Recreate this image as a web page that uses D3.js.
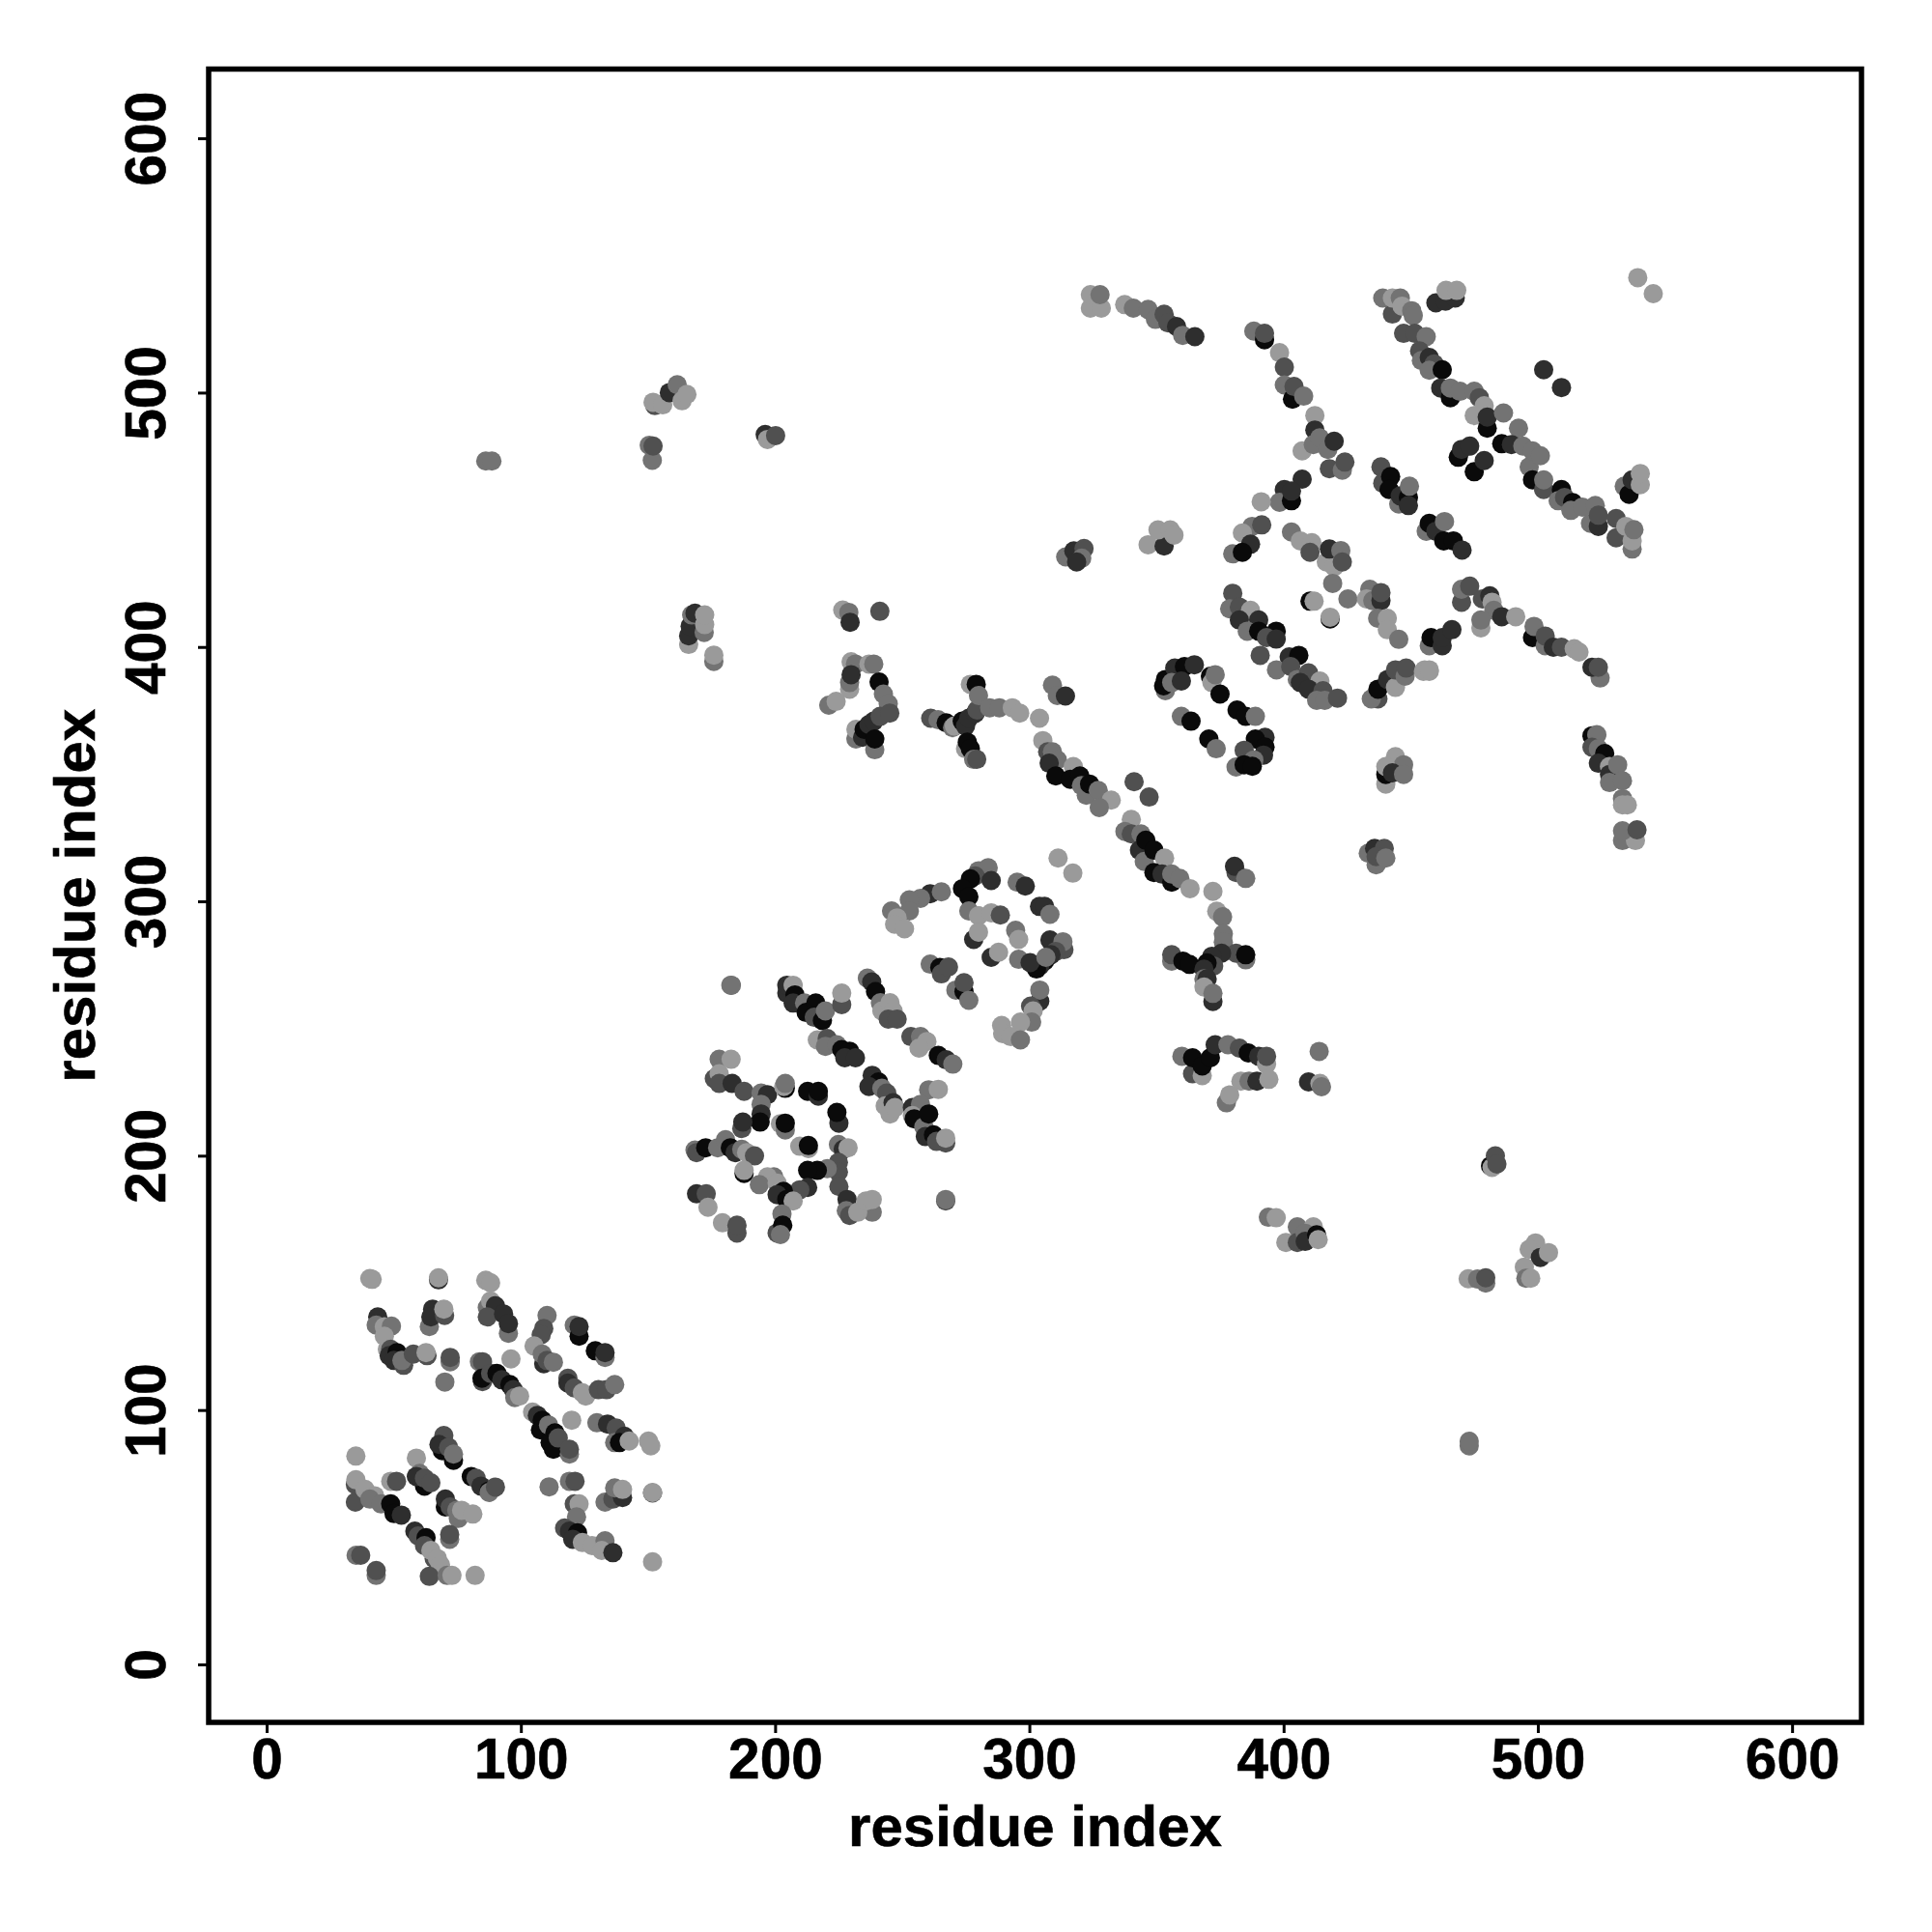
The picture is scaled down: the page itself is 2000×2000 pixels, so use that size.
<!DOCTYPE html>
<html><head><meta charset="utf-8">
<script src="https://cdn.jsdelivr.net/npm/d3@7"></script>
<style>html,body{margin:0;padding:0;background:#fff}svg{display:block}</style></head>
<body><div id="chart"></div>
<script>
// Each entry: [residue i, residue j, shade class 0 (darkest) .. 4 (lightest)]
const domainA = [
[40.6,151.7,4],[41.5,151.4,4],[67.6,151.2,1],[67.6,152,4],[86.2,151,4],[88.1,150,4],
[43.7,136.6,1],[43.1,133.4,3],[46.3,132.7,4],[49.1,133,3],[46.3,129,4],[47.5,123.9,4],[48.8,123.9,2],[48.2,121.4,1],[51.3,122.6,0],[50.1,119.5,1],[53.9,117.6,2],[53.2,119.5,3],[57.7,122,2],[63.1,121.4,2],[62.7,122.6,4],[72.2,119,3],[72.2,120.7,2],[70.1,111,3],
[64,132.8,3],[65.3,139.7,1],[64.6,136.6,1],[70,137.2,2],[69.7,139.7,4],
[86.8,140.3,3],[88.1,142.9,4],[90,141,1],[86.8,136.6,2],[93.2,137.8,1],[95.1,130.2,3],[95.1,134,1],
[110.3,137.2,3],[109,132.1,2],[108,129.6,2],[105.2,125.2,4],[109,118.2,1],[108.4,122,3],[110.3,119.5,2],[112.8,118.8,3],
[121,133.4,3],[122.9,129,0],[122.9,132.8,1],[129.3,123.3,0],[133.1,120.7,3],[133.1,122.6,1],
[118.5,112.5,2],[118.5,110.6,1],[121,108.7,2],[124.2,106.8,4],[125.5,105.5,4],[130.5,108,2],[133.7,108,2],[136.9,110,3],
[83.7,119,3],[84.9,119,2],[96.1,120.1,4],[84.9,111.2,2],[84.7,112.5,0],[88.1,114.4,2],[90.6,114.4,0],[92.5,111.9,1],[95.7,110,0],[97,108,1],[97.6,104.9,3],[99.5,105.5,4],
[104.6,99.2,4],[106.5,97.9,1],[108.4,96,0],[107.7,92.2,0],[110.9,94.1,3],[113.4,91,0],[111.5,87.2,0],[112.8,84.6,0],[114.7,89,2],[119.1,82.7,3],[119.1,84.6,2],[120,96,4],
[129.9,95,3],[134.1,94.5,1],[137.5,92.9,2],[136.9,87.2,3],[140.7,89.7,1],[138.8,87.2,0],[142.6,87.8,4],[150.2,87.8,4],[151.1,85.9,4],
[69.1,84,0],[69.7,90,2],[67.8,86.5,1],[71.6,85.3,2],[73.5,80.2,0],[73.5,82.7,3],
[58.9,81.1,4],[62.1,70.1,0],[60.2,75.1,3],[58.9,73.9,1],[62.1,73.2,2],[64.6,71.4,2],
[80.5,73.9,0],[82.4,73.2,2],[84.3,70.1,1],[87.5,68.2,0],[87.5,67.6,3],[90,69.7,2],
[35.1,81.9,4],[34.9,70.7,2],[35.1,72.6,4],[34.9,63.8,2],[38.7,68.8,4],[42.5,66.3,4],[40.6,65,3],[45,63.1,3],[48.8,63.1,0],[50.1,59.3,0],[53,58.7,1],
[48.8,72,4],[51.1,72,2],
[70.3,61.9,0],[70.3,65,1],[72.2,61.9,2],[74.8,60.6,3],[75.4,57.4,3],[76.7,60.6,4],[81.1,59.1,4],
[58.3,52.4,1],[59.6,50.5,2],[62.7,49.8,0],[62.1,46.7,2],[65.9,41.6,2],[64.6,44.8,4],[67.2,41.6,4],[68.4,39.1,4],
[72,49.2,3],[72,51.1,2],[35.2,42.9,3],[37,42.9,2],[43.1,35,3],[43.1,36.9,2],[64,34.6,2],[71,35,3],[72.9,35,4],[82,35,4],
[111.1,69.8,3],[119.1,72,3],[121.3,72,2],[133.1,63.8,3],[136.2,65,2],[140,65.6,1],[136.9,69.4,3],[140,68.8,4],[151.8,67.4,2],[151.8,67.6,4],
[121,63.1,2],[122.9,63.1,4],[121.9,58,3],[117.2,53.6,2],[119.1,52.4,1],[122.3,51.7,0],[120.4,49.2,1],[124.2,47.9,4],[128,46.7,4],[133.1,48.6,3],[131.8,44.8,4],[136.2,43.9,1],[151.8,40.3,4]
];
const domainB = [
[311.3,317,4],[317.1,311.1,4],[182.6,267,3],[182.8,267,3],[267.1,182.2,2],[267.1,182.8,3],
[204.6,263.9,1],[204.6,267,1],[207.1,267,4],[207.8,263.2,0],[207.1,260,1],[211.6,260,3],[212.2,256.3,0],[216.6,255.6,0],[216,260,0],[215.4,254.4,2],[218.6,253.1,0],[219.8,256.9,3],[226.2,259.4,2],[226.2,263.9,4],
[236.3,269.8,3],[238,268.3,1],[239.5,264.5,0],[241.4,260.1,3],[242,256.9,4],[245.2,260.1,4],[246.4,256.9,4],[244.5,253.7,2],[248,253.7,2],[253.4,246.8,2],[257.2,246.8,3],[259.7,244.9,4],[256.6,242.3,4],[264.2,239.4,0],[267.3,237.7,1],[269.9,236,3],
[216.6,245.5,4],[220.5,246.1,2],[219.8,243,3],[224.3,243.6,3],[226.2,241.7,0],[229.3,241.1,0],[227.4,238.5,1],[231.6,238.5,1],
[238.2,231.6,1],[240.7,229,0],[236.9,227.2,1],[242,226.5,3],[243.9,224.6,2],[243.3,219.6,4],[246.4,220.8,1],[245.2,216.4,4],[247.1,218.9,4],
[260.4,225.9,3],[264.2,226.1,4],[254,218.9,1],[257.2,220.2,3],[254,215.8,4],[254.7,214.5,0],[258.5,211.3,3],[260.4,216.4,0],[259.1,207.5,1],[262.3,208.2,0],[267.1,205,2],[263.5,205.6,2],[267.1,206.9,4],
[178,237.9,3],[182.7,237.9,4],[176.1,230.3,2],[178,232.2,4],[178,228.4,2],[183.1,228.4,1],[187.8,225.3,2],[194.5,224.6,3],[197,224,1],[204,226.5,0],[203.4,227.2,4],[204,228.4,3],[194.5,220.2,3],[194.5,216.4,1],[194.1,213.2,0],
[202.1,212.6,4],[204,210.1,3],[204,212.8,0],[212.8,225.3,0],[217,223.4,1],[217,225.3,0],[225.1,212.8,1],[224.3,217,0],
[186.9,210.7,2],[187.3,213.2,1],[168.5,202.2,3],[169.1,201.2,2],[172.7,203.1,0],[177.4,203.1,3],[180.5,206.3,3],[182.4,203.1,0],[184.3,201.2,1],[186.9,202.5,3],[188.8,201.2,4],[191.9,199.9,2],[187.8,193,0],[187.8,194.2,4],
[209.7,203.7,4],[213.1,202.8,4],[213.1,204,0],[224.9,204.4,3],[226.8,202.5,1],[228.7,203.1,4],[224.9,197.4,2],[224.9,193.6,2],[220.5,194.9,3],[216.6,194.2,0],[212.8,194.2,0],[212.8,187.5,1],[209.7,186.6,2],[225.1,187.9,2],[228.3,182.8,1],
[199.5,191.7,3],[197,191.7,4],[193.8,188.6,3],[200.8,189.2,4],[203.3,186,0],[200.8,184.7,1],[204.6,182.8,0],[207.1,182.2,4],[202.7,177.1,3],[200.8,169.6,2],[203,172.7,0],[202.1,169,3],
[228,178.4,3],[229.3,176.5,2],[238.2,177.8,3],[232.5,177.8,4],[235.7,182.2,4],[238.2,182.8,4],
[169.1,185,1],[172.9,185,2],[173.6,179.7,4],[179.3,173.6,4],[185,169.6,2],[185,172.7,2]
];
const domainC = [
[280,312,3],[283.8,313.2,3],[278.7,310,2],[276.8,308.8,0],[273.7,305,0],[276.2,301.8,0],[285,308.2,1],
[295.2,307.5,3],[298.4,306,1],[304,298,1],[306,298,1],[308.1,294.9,3],
[261,303,1],[265.4,303.7,3],[257.2,301.2,3],[252.8,300.6,3],[252.8,296.2,3],[245.8,296.2,3],[248,293.5,4],[247,291,4],[250.9,289.2,4],
[276.2,296.2,3],[280,294.3,4],[285,295.5,4],[288.6,294.6,2],[278.1,285,1],[280,287.9,4],[294.6,288.6,3],[295.8,285,4],[285,278,1],[287.9,280,4],[295.8,277.2,3],
[308.1,284.8,1],[313.6,281,2],[313.2,284.1,3],[310.4,280.3,2],[308.5,279,1],[306,276.5,0],[304.1,274.6,1],[302.8,273.4,0],[300.3,275.9,1],[306.5,278,3],
[304.1,260.7,1],[304.1,265.1,3],[300.5,258.8,2],[301.5,256.9,4],[300.9,252.5,3],[296.5,252.5,4],[289.1,251.2,4],[289.5,248,4],[292.7,246.8,4],[296.5,245.5,3],
[261,275.3,3],[264.8,274,0],[265.4,271.5,2],[268.2,274.2,2],[271.1,265.1,3],[274.3,264.5,0],[274.3,268,2],[276.2,261.1,3],
[309.1,385,3],[311,380.9,3],[314.2,380.7,1],[304,372,4],
[305.3,363.2,4],[307.2,358.8,2],[309.1,358.8,3],[311,355.6,3],[307.8,354.3,1],[310.4,349.3,0],[317.3,353,4],[316.1,348,0],[319.9,349.3,0],[320.5,345.5,3],[322.4,341.7,3],[323.7,346.1,0],[327.1,343.6,3],[332.2,339.8,4],[327.5,336.9,3],
[341.2,347,2],[347.1,341,2],
[340.1,332.2,4],[337.6,327.5,3],[340.1,326.5,2],[343.9,326.5,3],[343.3,320.1,1],[345.8,324,0],[345.2,315.7,3],[349,320.1,0],[353.2,317,4],[349,311.3,0],[352.2,310.7,1],[356,307.5,0],[356,310.7,3],[359.2,309,3],[363.2,305,4],[372.2,303.9,4],
[381.3,311.3,2],[380.7,313.8,1],[385.1,309,3],
[373.7,296.1,4],[376,293.9,3],[376.3,287.2,3],[376.3,284,3],
[356,276.5,3],[356,279,2],[360.4,276.5,0],[363,275.2,0],[385.1,277,3],[381.3,279.6,2],[385.1,279,0],[375.6,279.6,1],[371.8,278.4,1],[372.5,274.6,2],[369.9,275.8,0],[368.7,273.3,1],[368.7,269.5,3],[369.9,269.5,1],[368.7,266.3,4],[372.2,260.6,1],[372.2,263.8,3],
[414,241,3],
[472.6,151.6,4],[473,85.9,3],[473,87.7,3]
];
const domainD = [
[353.5,382.8,3],[352.8,384.7,0],[353.5,387.2,0],[357.2,391.7,1],[361,392.3,0],[364.9,393,1],[356,386,3],[359.8,386.6,1],
[371.2,388.5,0],[371.8,386,4],[373.1,389.1,3],[375,381.5,0],[359.8,372.7,3],[363.6,370.8,0],[370.6,363.8,0],[373.5,360,3],
[381.7,375.2,0],[385.1,372.7,0],[388.9,372.7,3],[392.7,364.5,1],[388.9,363.8,0],[392.7,360.7,0],[392.1,357.5,1],[384.5,359.4,2],[388.3,355.6,3],[381.3,352.8,3],[384.5,353.7,0],[387.7,353.1,0],
[444,356.9,4],[447.2,353.7,3],[440.2,346.1,4],[440.2,349.9,0],[440.2,353,4],[442.8,350.5,1],[447.2,349.9,3],
[433.3,318.9,3],[435.8,320.8,1],[439.6,320.8,2],[436.4,314.4,3],[436.4,317.6,2],[440.2,317,3],
[380,421.1,2],[378.8,415,3],[382.6,415.7,2],[387,414.4,4],[382.6,410.6,1],[390.2,410.6,1],[385.7,406.2,3],[390.2,406.2,0],[397.1,406.2,0],[393.3,403.7,2],[397.1,403.1,1],
[390.8,396.7,2],[402.2,396.1,1],[406,396.7,0],[397.2,391,3],[402.8,392.3,2],[405.4,387.2,3],[409.8,389.8,2],[406.6,386,1],[414.3,386.6,4],[409.8,383.4,1],[415.5,382.8,2],[413,379,3],[416.2,379,3],[421.2,379.9,2],
[437.1,379.6,2],[434.5,379.6,3],[437.1,383.4,0],[440.9,387.2,1],[444,384.1,4],[444,391,2],[447.8,388.5,3],[448.2,391.7,2],[457.3,390.4,4],[455,390.4,4],
[314.3,435.4,3],[317.5,437.8,1],[321.5,438.7,2],[320.6,434.9,3],[318.6,433.4,1],
[346.7,440.2,4],[353,439.7,1],[350.6,446,4],[355.4,446,4],[356.9,444,4],
[324,533.2,4],[328.3,533.2,4],[324,538.5,4],[327.8,538.5,3],
[337.5,534.6,4],[340.9,533.2,3],[346.7,532.7,3],[349.6,528.8,3],[353,530.8,2],[354.5,527.4,2],[357.9,526,1],[360.3,522.5,3],[365.1,522,1],
[86.2,473.1,3],[88.6,473.1,3]
];
const domainE = [
[539.3,545.2,4],[545.4,538.9,4],[502.3,509,1],[509.3,502,1],
[459.9,535.3,1],[463.7,536,1],[467.5,537.2,1],[463.9,540.2,4],[468.1,540.2,4],
[439,537.2,3],[442.8,530.9,2],[442.8,537.2,4],[445.9,537.2,3],[446.6,534,4],[450.4,532.2,3],[451,530.3,3],[447.2,523.3,2],[451.6,523.3,2],[456.1,522,3],[453.5,516.4,2],[454.2,512.6,3],[457.3,513.8,1],[459.2,511.3,2],[457.3,508.8,3],[462.4,509,0],
[461.8,501.8,1],[465.6,498,0],[465.6,501.8,3],[469.4,500.5,3],[475,500.5,3],[477,498,2],[475,491,4],[478.9,494.8,4],[480.1,486,0],[480.1,490.4,1],[486.5,492,3],[492.4,486,3],
[468.7,474.6,0],[470,477.7,1],[473.2,479,1],[475,468.9,0],[478.9,473.3,1],
[485.8,479.9,0],[489.6,479.6,1],[494.1,479,3],[496.6,470.8,3],[497.9,477.1,3],[501,475.2,3],[497.9,465.7,0],[502.3,461.9,2],[502.3,465.7,3],
[509.3,461.9,0],[508,457.5,3],[510.5,458.8,2],[513.7,456.8,0],[513,453.7,3],[517.5,455,3],[522.6,455.6,3],[520.7,448.6,3],[523.8,447.4,1],[523.8,451.8,2],[530.8,450.5,2],[530.8,442.9,2],[537.1,438.5,3],[537.1,441.7,4],[534.6,447.4,4],[537.8,446.1,3],
[534,463.2,3],[535.9,460,0],[537.1,465.7,1],[540.3,463.8,4],[540.3,468.2,4],
[388.3,524.2,3],[392.5,520.8,0],[392.5,523.3,2],[398.4,515.7,4],[400.3,510,2],[400.3,503,3],[403.5,497.4,0],[404.1,502.4,2],[407.9,498.6,3],
[412.3,491,4],[412.3,485.3,1],[407.3,477.1,4],[411.7,479.6,3],[414.2,482.2,3],[417.4,477.7,3],[419.9,480.9,1],[418,470.1,2],[423.1,469.5,3],[424.1,472.7,2],
[407.3,466,1],[400.3,461.9,1],[398.4,456.9,3],[403.1,457.5,0],[403.1,461.3,1],[391.2,457.1,4],
[387.6,447.4,3],[391.4,448,2],[383.8,444.8,4],[387,440.4,1],[380,436.6,3],[383.8,437.2,0],
[403.1,445.2,3],[406.6,441.7,4],[411.1,441,4],[410.4,437.2,2],[416.8,433.4,4],[419.9,431.5,4],[418,438.5,1],[422.5,437.9,3],[423.1,433.4,2],
[419.3,425,3],[410.4,418,0],[412,418,4],[425.3,418.9,3],[418.3,411,0],[418.3,411.7,4],
[433.9,422.7,3],[432.6,418.9,4],[435.1,418.2,3],[438.3,418.2,1],[438.3,421.4,2],[437,411.3,3],[440.8,411.3,4],[440.8,406.8,4],[445.3,403,3],
[457.3,400.5,3],[458,403.7,0],[462.4,400.5,1],[462.4,403.7,1],[466.2,406.8,1],[455.5,391,4],[457.3,391,4],
[470,417.6,2],[470,422.7,3],[473.2,423.9,2],[478.2,418.9,2],[481.1,420.1,1],[482,417.6,4],[482.7,414.4,3],[477.6,407.5,4],[477.6,410.6,3],[485.8,411.9,1],[491.3,411.9,4],
[497.9,403.7,0],[498.5,408.1,3],[502.9,400.5,3],[502.9,404.3,2],[506.1,399.9,1],[509.3,399.9,2],[514.3,399.3,4],[516.2,398,4],[524.5,387.8,3],[521.3,392,1],[523.8,392,2],
[438.3,470.8,2],[439,464.4,2],[442.1,467,0],[441.5,461.9,0],[445.3,456.2,3],[445.9,459.4,1],[449.1,458.8,0],[449.1,455.6,1],[449.5,463.2,3],
[456.1,445.5,3],[457.3,448.6,0],[459.9,445.5,1],[463.3,449.3,3],[463,441.7,0],[466.8,441.7,0],[470.2,438.1,1]
];
const domainF = [
[229.9,394.2,4],[231.6,393.3,3],[236.9,393.3,4],[238.8,393.3,3],[229.3,383.4,4],[229.3,386,3],[229.9,389.1,1],
[240.9,386.2,0],[242.6,381.5,3],[244.5,377.7,3],[231.8,363.8,3],[231.8,367.6,4],[234.4,364.5,1],[239.2,359.6,3],[235,367.6,0],[236.9,369.5,1],[238.8,370.8,1],[239.2,363.8,0],[241.3,372.7,2],[245.1,374,2],
[221.1,377.1,3],[224,378.6,4],
[261.2,372,2],[264.1,371.4,3],[267.3,370.2,0],[269.8,368.3,3],[270.5,368.9,4],[273.6,370.8,0],[274.9,368.9,1],[276.2,372,1],[278.7,373.9,1],[279.4,375.2,2],
[274.9,360,4],[275.6,362.6,0],[276.8,360,0],[278.1,355.8,3],[279.3,355.8,2],
[276.8,385.3,4],[279.1,385.3,0],[280,380.9,3],
[284.4,376.1,3],[288.2,376.1,3],[293.3,376.1,4],[296.2,374,4],
[360,239.1,3],[364.2,232.2,2],[368,231.5,4],[364.2,238.5,0],[368,235.3,0],[371.2,238.5,0],[373.1,243.6,1],[378.1,243.6,3],[382.6,242.3,2],[386.1,240.4,0],[390.2,239.1,1],[393.3,236,4],[393.3,239.1,2],
[383.2,229.3,4],[386.4,229.3,3],[389.5,229.3,1],[394.2,230,4],[377.5,220.8,3],[378.8,223.9,4],
[409.8,229,1],[414.3,228.4,4],[414.9,227.1,3],
[394,175.8,3],[397.1,175.6,4],[405.4,172,3],[411.7,172,4],[400.9,165.9,4],[405.4,165.9,2],[408.5,169.5,3],[408.5,166.3,1],[413,168.9,0],[413.6,167,4],
[481.4,196,0],[482,195.4,4],[483.3,199.9,2],[483.9,196.7,2],
[476.3,151.5,3],[479.5,149.9,3],[479.5,152,2],
[499.1,165.7,4],[496.6,163.2,4],[501,160,1],[504.2,161.9,4],[494.7,156.2,4],[495.3,151.8,3],[497.2,151.8,4],
[152.7,494.9,2],[152,496.2,4],[155.8,495.2,4],[158.4,500,1],[161.5,503.1,3],[163.4,496.8,4],[165.3,499.3,4],
[151.7,473.4,3],[150.5,479.3,3],[152,479,2],
[196.1,483.5,1],[197,481.6,4],[200.2,483.1,2],
[166,401,4],[166,404.4,1],[166.6,408.2,1],[167.2,412.6,3],[168.5,413.3,1],[172.1,405.7,3],[172.3,408.8,4],[172.3,412.6,4],
[175.9,394.3,3],[175.9,396.8,4],
[226.6,414.5,4],[229,413.6,3],[229.5,409.7,1],[241.2,414,2],
[521.3,365.1,0],[523.2,365.5,3],[521.3,360.6,2],[523.8,360,3],[526.3,358.1,0],[523.8,354.3,1],[528.2,353,4],[528.2,349.9,1],[528.2,346.7,3],[531.4,353.7,3],[533.3,347.4,3],[533.3,340.4,3],[533.3,337.9,4],[535.2,337.9,4],
[533.3,323.9,3],[538.4,323.9,4],[533.3,327.7,3],[539,328.1,2]
];

const xLim = [-22.8, 627.3];
const yLim = [-22.8, 627.2];
const tickValues = [0, 100, 200, 300, 400, 500, 600];
const axisTitle = "residue index";
const shades = ["#0a0a0a", "#2e2e2e", "#505050", "#737373", "#9a9a9a"];

const box = {left: 216, right: 1927, top: 71.5, bottom: 1783};
const font = "'Liberation Sans', Arial, sans-serif";
const svg = d3.select("#chart").append("svg").attr("width", 2000).attr("height", 2000)
  .style("font-family", font);

const x = d3.scaleLinear().domain(xLim).range([box.left, box.right]);
const y = d3.scaleLinear().domain(yLim).range([box.bottom, box.top]);

const points = [...domainA, ...domainB, ...domainC, ...domainD, ...domainE, ...domainF];
svg.append("g").selectAll("circle").data(points).join("circle")
  .attr("cx", d => x(d[0])).attr("cy", d => y(d[1])).attr("r", 10)
  .attr("fill", d => shades[d[2]]);

const styleAxis = g => {
  g.select(".domain").remove();
  g.selectAll("line").attr("stroke", "#000").attr("stroke-width", 3);
  g.selectAll("text").attr("fill", "#000").style("font-size", "58.5px").style("font-weight", 700)
    .style("font-family", font).attr("stroke", "#000").attr("stroke-width", 0.6);
};
svg.append("g").attr("transform", `translate(0,${box.bottom})`)
  .call(d3.axisBottom(x).tickValues(tickValues).tickSize(11).tickPadding(5).tickFormat(d3.format("d")))
  .call(styleAxis);
const yAxis = svg.append("g").attr("transform", `translate(${box.left},0)`)
  .call(d3.axisLeft(y).tickValues(tickValues).tickSize(11).tickFormat(d3.format("d")))
  .call(styleAxis);
yAxis.selectAll("text")
  .attr("x", null).attr("dy", null)
  .attr("text-anchor", "middle")
  .attr("transform", "translate(-45,0) rotate(-90)");

svg.append("rect").attr("x", box.left).attr("y", box.top)
  .attr("width", box.right - box.left).attr("height", box.bottom - box.top)
  .attr("fill", "none").attr("stroke", "#000").attr("stroke-width", 5.5);

svg.append("text").attr("x", (box.left + box.right) / 2).attr("y", 1911)
  .attr("text-anchor", "middle").attr("font-size", 60).attr("font-weight", 700)
  .attr("stroke", "#000").attr("stroke-width", 0.6).text(axisTitle);
svg.append("text").attr("transform", `translate(98,${(box.top + box.bottom) / 2}) rotate(-90)`)
  .attr("text-anchor", "middle").attr("font-size", 60).attr("font-weight", 700)
  .attr("stroke", "#000").attr("stroke-width", 0.6).text(axisTitle);
</script></body></html>
